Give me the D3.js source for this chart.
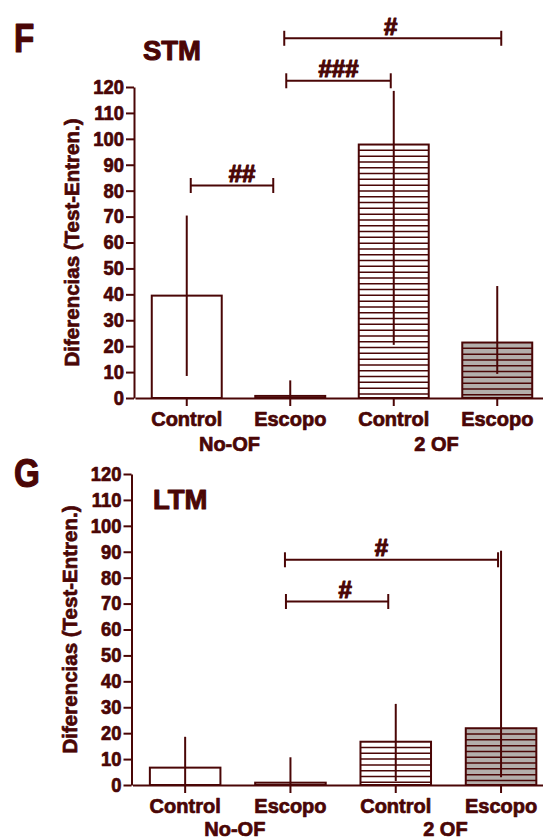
<!DOCTYPE html>
<html>
<head>
<meta charset="utf-8">
<script src="https://cdn.jsdelivr.net/npm/d3@7"></script>
<style>
  body { margin: 0; background: #ffffff; }
  svg text { font-family: "Liberation Sans", Arial, Helvetica, sans-serif; font-weight: bold;
             fill: #4a0606; stroke: #4a0606; stroke-width: 0.7px; stroke-linejoin: round; }
</style>
</head>
<body>
<svg id="chart" width="543" height="840"></svg>
<script>
// ---- data ----
const categories = ["Control", "Escopo", "Control", "Escopo"];
const groupNames = ["No-OF", "2 OF"];
const groupOf = [0, 0, 1, 1];
const yTickValues = [0, 10, 20, 30, 40, 50, 60, 70, 80, 90, 100, 110, 120];

// STM: mean difference (Test - Entren.) with error bar ends
const stmMean = [39.5, 0.8, 97.8, 21.4];
const stmLow  = [8.5, 0, 20.5, 9.3];
const stmHigh = [70.4, 6.8, 118.5, 43.2];

// LTM
const ltmMean = [6.7, 0.9, 16.7, 21.9];
const ltmLow  = [0, 0, 1.5, 3.0];
const ltmHigh = [18.6, 10.7, 31.3, 90.4];

// significance comparisons: category a vs b, bracket level (y units), label
const stmCompA = [0, 1, 1];
const stmCompB = [1, 2, 3];
const stmCompY = [82, 122.4, 138.8];
const stmCompLabel = ["##", "###", "#"];

const ltmCompA = [1, 1];
const ltmCompB = [2, 3];
const ltmCompY = [70.8, 86.9];
const ltmCompLabel = ["#", "#"];

// ---- styling ----
const ink = "#4a0606";
const barFill = ["#ffffff", "#ffffff", "#ffffff", "#b3aeab"];
const hatched = [false, false, true, true];
const svg = d3.select("#chart");

function drawPanel(p) {
  const g = svg.append("g");
  const x = d3.scaleBand().domain(d3.range(categories.length))
    .range(p.xRange).paddingInner(p.pad).paddingOuter(p.pad / 2);
  const y = d3.scaleLinear().domain([0, 120]).range(p.yRange);
  const cx = i => x(i) + x.bandwidth() / 2;

  // panel letter and title
  g.append("text").attr("transform", `translate(${p.letterX},${p.letterY}) scale(0.83,1)`)
    .attr("font-size", 40).style("stroke-width", "1.2px").text(p.letter);
  g.append("text").attr("x", p.titleX).attr("y", p.titleY)
    .attr("text-anchor", p.titleAnchor).attr("font-size", 27.5).style("stroke-width", "1px").text(p.title);

  // y axis
  const yAxis = g.append("g").attr("transform", `translate(${p.xRange[0] - 1},0)`)
    .call(d3.axisLeft(y).tickValues(yTickValues).tickSize(8).tickSizeOuter(0).tickPadding(2));
  yAxis.select(".domain").attr("stroke", ink).attr("stroke-width", 2);
  yAxis.selectAll(".tick line").attr("stroke", ink).attr("stroke-width", 2);
  yAxis.selectAll(".tick text").attr("font-size", 20).attr("fill", ink)
    .attr("x", -10 / 0.92).attr("transform", "scale(0.92,1)");

  // y label
  g.append("text")
    .attr("transform", `translate(${p.yLabelX},${(p.yRange[0] + p.yRange[1]) / 2}) rotate(-90)`)
    .attr("text-anchor", "middle").attr("font-size", 20.5).text("Diferencias (Test-Entren.)");

  // bars
  const bars = g.append("g");
  p.mean.forEach((v, i) => {
    const bx = x(i), bw = x.bandwidth();
    const top = y(v), bottom = y(0);
    bars.append("rect").attr("x", bx).attr("y", top).attr("width", bw).attr("height", bottom - top)
      .attr("fill", barFill[i]).attr("stroke", ink).attr("stroke-width", 2);
    if (hatched[i]) {
      const step = 5.8;
      for (let yy = top + step; yy < bottom - 1; yy += step) {
        bars.append("line").attr("x1", bx).attr("x2", bx + bw).attr("y1", yy).attr("y2", yy)
          .attr("stroke", ink).attr("stroke-width", 1.5);
      }
    }
  });

  // error bars
  p.mean.forEach((v, i) => {
    g.append("line").attr("x1", cx(i)).attr("x2", cx(i))
      .attr("y1", y(Math.max(p.low[i], 0))).attr("y2", y(p.high[i]))
      .attr("stroke", ink).attr("stroke-width", 2);
  });

  // x axis
  const xAxis = g.append("g").attr("transform", `translate(0,${y(0)})`)
    .call(d3.axisBottom(x).tickSize(8).tickSizeOuter(0).tickFormat(() => ""));
  xAxis.select(".domain").attr("stroke", ink).attr("stroke-width", 2);
  xAxis.selectAll(".tick line").attr("stroke", ink).attr("stroke-width", 2);

  // category labels
  categories.forEach((c, i) => {
    g.append("text").attr("x", cx(i)).attr("y", p.catY).attr("text-anchor", "middle")
      .attr("font-size", 20).text(c);
  });
  groupNames.forEach((name, k) => {
    const members = d3.range(categories.length).filter(i => groupOf[i] === k);
    const mid = d3.mean(members, cx);
    g.append("text").attr("x", mid + p.groupShift).attr("y", p.groupY).attr("text-anchor", "middle")
      .attr("font-size", 20).text(name);
  });

  // significance brackets
  p.compA.forEach((a, j) => {
    const b = p.compB[j];
    const off = p.bracketOffsets[j];
    const x1 = cx(a) + off[0], x2 = cx(b) + off[1], yy = y(p.compY[j]);
    const br = g.append("g").attr("stroke", ink).attr("stroke-width", 2);
    br.append("line").attr("x1", x1).attr("x2", x2).attr("y1", yy).attr("y2", yy);
    br.append("line").attr("x1", x1).attr("x2", x1).attr("y1", yy - 7.5).attr("y2", yy + 7.5);
    br.append("line").attr("x1", x2).attr("x2", x2).attr("y1", yy - 7.5).attr("y2", yy + 7.5);
    g.append("text").attr("x", (x1 + x2) / 2 + off[2]).attr("y", yy - 3.5)
      .attr("text-anchor", "middle").attr("font-size", 24).style("stroke-width", "1.2px")
      .text(p.compLabel[j]);
  });
}

drawPanel({
  letter: "F", letterX: 14, letterY: 52,
  title: "STM", titleX: 172, titleY: 60, titleAnchor: "middle",
  xRange: [135, 549], yRange: [398, 87], pad: 0.324,
  yLabelX: 79, catY: 426, groupY: 451, groupShift: -9,
  mean: stmMean, low: stmLow, high: stmHigh,
  compA: stmCompA, compB: stmCompB, compY: stmCompY, compLabel: stmCompLabel,
  bracketOffsets: [[4, -17, 10], [-4, -3, 0], [-6, 4, -2]]
});

drawPanel({
  letter: "G", letterX: 14, letterY: 487,
  title: "LTM", titleX: 153, titleY: 509, titleAnchor: "start",
  xRange: [132.5, 553.7], yRange: [785, 474], pad: 0.33,
  yLabelX: 77, catY: 813, groupY: 836, groupShift: -3,
  mean: ltmMean, low: ltmLow, high: ltmHigh,
  compA: ltmCompA, compB: ltmCompB, compY: ltmCompY, compLabel: ltmCompLabel,
  bracketOffsets: [[-4.5, -7.5, 8], [-5.5, -3, -10]]
});
</script>
</body>
</html>
